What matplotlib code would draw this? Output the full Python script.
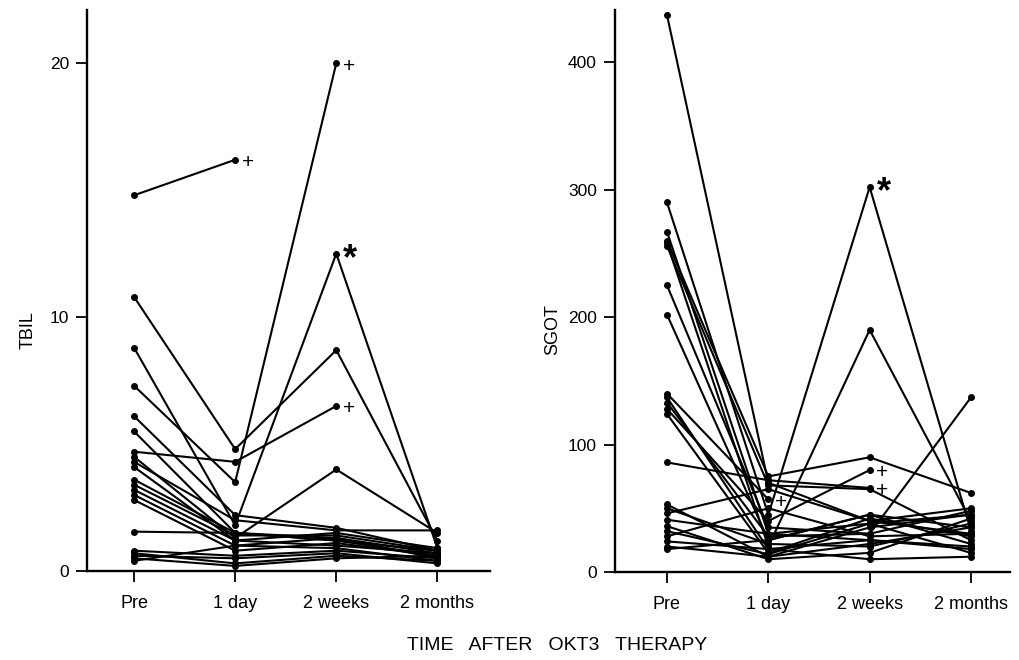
import matplotlib.pyplot as plt
import numpy as np

plt.rcParams['font.family'] = ['Liberation Sans', 'DejaVu Sans']

times = ["Pre", "1 day", "2 weeks", "2 months"]
nan = np.nan

# TBIL, one entry per patient at each time point
tbil_pre = [14.8, 10.8, 8.8, 7.3, 6.1, 5.5, 4.7, 4.5, 4.3, 4.1, 3.6, 3.4, 3.2, 3.0, 2.8, 1.55, 0.8, 0.7, 0.6, 0.5, 0.4]
tbil_day1 = [16.2, 4.8, 1.8, 3.5, 2.2, 1.5, 4.3, 1.3, 2.0, 1.2, 1.5, 1.4, 1.2, 1.0, 0.8, 1.5, 0.6, 0.3, 0.5, 0.2, 1.0]
tbil_wk2 = [nan, 8.7, 12.5, 20.0, 1.7, 1.3, 6.5, 4.0, 1.6, 1.5, 1.2, 1.4, 1.0, 1.3, 1.1, 1.2, 0.8, 0.6, 0.7, 0.5, 0.9]
tbil_mo2 = [nan, 1.2, 0.9, nan, 0.8, 0.7, nan, 1.5, 1.6, 0.9, 0.6, 0.8, 0.7, 0.5, 0.6, 0.8, 0.5, 0.4, 0.3, 0.6, 0.4]
# (patient, time index, symbol)
tbil_marks = [(0, 1, "+"), (3, 2, "+"), (6, 2, "+"), (2, 2, "*")]

# SGOT
sgot_pre = [437, 290, 267, 260, 258, 256, 225, 202, 140, 137, 133, 128, 124, 86, 53, 50, 46, 41, 36, 32, 28, 24, 20, 18]
sgot_day1 = [70, 45, 30, 75, 20, 68, 35, 25, 57, 18, 28, 40, 15, 72, 12, 22, 65, 30, 10, 14, 50, 18, 12, 25]
sgot_wk2 = [40, 302, 38, 90, 190, 65, 30, 45, nan, 25, 30, 80, 42, 66, 35, 20, 40, 25, 15, 38, 28, 10, 22, 45]
sgot_mo2 = [30, 32, 45, 62, 40, 25, 48, 35, nan, 20, 137, nan, 28, nan, 45, 38, 50, 18, 42, 15, 30, 12, 35, 22]
sgot_marks = [(8, 1, "+"), (11, 2, "+"), (13, 2, "+"), (1, 2, "*")]


def draw(ax, cols, marks, ylim, yticks, xlim):
    data = np.column_stack(cols)
    x = np.arange(len(times))
    for row in data:
        ok = ~np.isnan(row)
        ax.plot(x[ok], row[ok], color="black", lw=1.5, marker="o", ms=4)
    for i, t, sym in marks:
        if sym == "*":
            ax.annotate("*", (t, data[i, t]), xytext=(10, -4), textcoords="offset points",
                        fontsize=26, va="center", ha="center", fontweight="bold")
        else:
            ax.annotate("+", (t, data[i, t]), xytext=(9, -2), textcoords="offset points",
                        fontsize=15, va="center", ha="center")
    ax.set_xlim(xlim)
    ax.set_ylim(ylim)
    ax.set_xticks(x)
    ax.set_xticklabels(times)
    ax.set_yticks(yticks)
    for s in ["top", "right"]:
        ax.spines[s].set_visible(False)
    for s in ["left", "bottom"]:
        ax.spines[s].set_linewidth(1.7)
    ax.tick_params(axis="y", length=8, width=1.3, pad=5, labelsize=12.5)
    ax.tick_params(axis="x", length=8, width=1.3, pad=9, labelsize=13)


fig = plt.figure(figsize=(10.19, 6.6), dpi=100)
ax1 = fig.add_axes([87 / 1019, 89 / 660, 403 / 1019, 561 / 660])
ax2 = fig.add_axes([615 / 1019, 88 / 660, 395 / 1019, 562 / 660])

draw(ax1, [tbil_pre, tbil_day1, tbil_wk2, tbil_mo2], tbil_marks, (0, 22.1), [0, 10, 20], (-0.465, 3.52))
draw(ax2, [sgot_pre, sgot_day1, sgot_wk2, sgot_mo2], sgot_marks, (0, 441), [0, 100, 200, 300, 400], (-0.513, 3.385))

fig.text(28 / 1019, 0.5, "TBIL", rotation=90, ha="center", va="center", fontsize=13)
fig.text(553 / 1019, 0.5, "SGOT", rotation=90, ha="center", va="center", fontsize=13)
fig.text(557 / 1019, 1 - 645 / 660, "TIME   AFTER   OKT3   THERAPY", ha="center", va="center", fontsize=14)

plt.savefig("out.png", dpi=100)
